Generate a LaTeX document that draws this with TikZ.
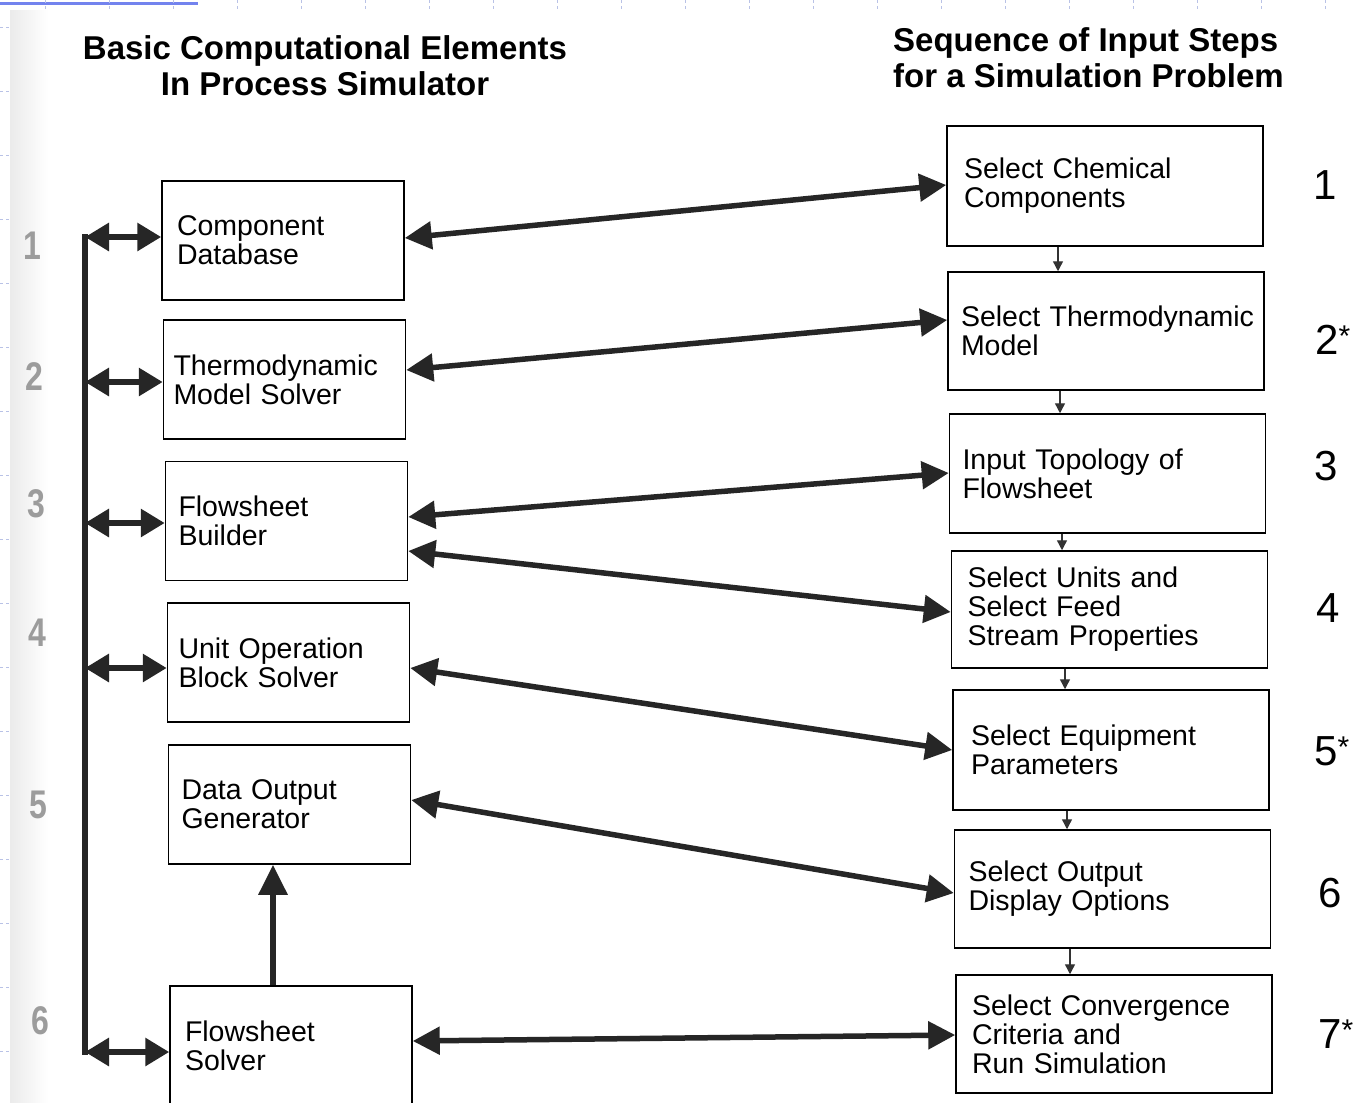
\documentclass[tikz,border=0pt]{standalone}
\usepackage{fontspec}
\setmainfont{Liberation Sans}
\usetikzlibrary{arrows.meta,calc}
\definecolor{rulerblue}{HTML}{7383EE}
\definecolor{tickblue}{HTML}{B9C2E6}
\definecolor{stepgray}{HTML}{9C9C9C}
\newcommand{\starmark}{\raisebox{8pt}{\fontsize{30}{30}\selectfont *}}
\newcommand{\nohyph}{\hyphenpenalty=10000\relax\exhyphenpenalty=10000\relax}
\begin{document}
\begin{tikzpicture}[x=1pt,y=-1pt,
  box/.style={draw, line width=1.5pt, inner ysep=0pt, align=left,
    font=\fontsize{28.5}{29}\selectfont\nohyph},
  lbox/.style={box, inner xsep=15pt, text width=212pt, minimum height=119pt},
  rbox/.style={box, inner xsep=13pt, text width=290pt, minimum height=118pt},
  title/.style={font=\fontsize{33}{36}\selectfont\bfseries, inner sep=0pt},
  stepnum/.style={font=\fontsize{42}{42}\selectfont, anchor=west, inner sep=0pt},
  sidenum/.style={font=\fontsize{40}{40}\selectfont\bfseries, text=stepgray, inner sep=0pt, xscale=0.8},
  twoway/.style={line width=5.5pt, color=black!85,
    {Triangle[length=27pt,width=27pt]}-{Triangle[length=27pt,width=27pt]}},
  branch/.style={line width=6pt, color=black!85,
    {Triangle[length=24pt,width=27pt]}-{Triangle[length=24pt,width=27pt]}},
  feed/.style={line width=1.4pt, color=black!80, -{Triangle[length=10pt,width=10pt]}},
  lift/.style={line width=6pt, color=black!85, -{Triangle[length=30pt,width=28pt]}}
]
\useasboundingbox (0,0) rectangle (1361,1103);
\fill[white] (0,0) rectangle (1361,1103);
% faint shading along the left edge of the page
\fill[left color=black!8, right color=white] (10,10) rectangle (48,1103);

% slide template marks
\draw[rulerblue, line width=3pt] (0,3) -- (198,3);
\foreach \tx in {45,109,...,1325}
  \draw[tickblue, line width=0.8pt, dash pattern=on 3pt off 3pt] (\tx,0) -- (\tx,10);
\foreach \ty in {27,91,...,1051}
  \draw[tickblue, line width=0.8pt, dash pattern=on 3pt off 3pt] (0,\ty) -- (10,\ty);

% headings
\node[title, align=center] (tleft) at (325,66) {Basic Computational Elements\\In Process Simulator};
\node[title, align=left, anchor=west] (tright) at (893,58) {Sequence of Input Steps\\for a Simulation Problem};

% computational elements
\node[lbox] (L1) at (283,240.5) {Component\\Database};
\node[lbox, inner xsep=10pt, text width=222pt] (L2) at (284.5,379.5) {Thermodynamic\\Model Solver};
\node[lbox, inner xsep=13pt, text width=216pt] (L3) at (286.5,521) {Flowsheet\\Builder};
\node[lbox, inner xsep=11pt, text width=220pt] (L4) at (288.5,662.5) {Unit Operation\\Block Solver};
\node[lbox, inner xsep=13pt, text width=216pt] (L5) at (289.5,804.5) {Data Output\\Generator};
\node[lbox, minimum height=120pt] (L6) at (291,1046) {Flowsheet\\Solver};

% input steps
\node[rbox, minimum height=120pt, inner xsep=17pt, text width=282pt] (R1) at (1105,186) {Select Chemical\\Components};
\node[rbox] (R2) at (1106,331) {\mbox{Select Thermodynamic}\\Model};
\node[rbox, minimum height=119pt] (R3) at (1107.5,473.5) {Input Topology of\\Flowsheet};
\node[rbox, minimum height=117pt, inner xsep=16pt, text width=284pt] (R4) at (1109.5,609.5) {Select Units and\\Select Feed\\Stream Properties};
\node[rbox, minimum height=120pt, inner xsep=18pt, text width=280pt] (R5) at (1111,750) {Select Equipment\\Parameters};
\node[rbox, inner xsep=14pt, text width=288pt] (R6) at (1112.5,889) {Select Output\\Display Options};
\node[rbox, inner xsep=16pt, text width=284pt] (R7) at (1114,1034) {Select Convergence\\Criteria and\\Run Simulation};

% step numbers on the right
\node[stepnum] (n1) at (1313,185) {1};
\node[stepnum] (n2) at (1315,340) {2\starmark};
\node[stepnum] (n3) at (1314,466) {3};
\node[stepnum] (n4) at (1316,608) {4};
\node[stepnum] (n5) at (1314,751) {5\starmark};
\node[stepnum] (n6) at (1318,893) {6};
\node[stepnum] (n7) at (1318,1034) {7\starmark};

% grey numbers on the left
\node[sidenum] (g1) at (32,246) {1};
\node[sidenum] (g2) at (34,377) {2};
\node[sidenum] (g3) at (36,504) {3};
\node[sidenum] (g4) at (37,633) {4};
\node[sidenum] (g5) at (38,805) {5};
\node[sidenum] (g6) at (40,1021) {6};

% bus bar linking the elements
\coordinate (bt) at (85,237);
\coordinate (bb) at (85,1052);
\draw[line width=5.5pt, color=black!85] ([yshift=2.75pt]bt) -- ([yshift=-2.75pt]bb);
\draw[branch] (bt) -- ([yshift=3.5pt]L1.west);
\draw[branch] (bt |- 0,382) -- ([yshift=-2.5pt]L2.west);
\draw[branch] (bt |- 0,523) -- ([yshift=-2pt]L3.west);
\draw[branch] (bt |- 0,668) -- ([yshift=-5.5pt]L4.west);
\draw[branch] (bb) -- ([yshift=-6pt]L6.west);

% results passed up to the output generator
\draw[lift] ([xshift=-18pt]L6.north) -- ([xshift=-18pt]L6.north |- L5.south);

% element <-> input step links
\draw[twoway] ([yshift=2.5pt]L1.east) -- ([yshift=1pt]R1.west);
\draw[twoway] ([yshift=9.5pt]L2.east) -- ([yshift=11pt]R2.west);
\draw[twoway] ([yshift=4pt]L3.east) -- ([yshift=0.5pt]R3.west);
\draw[twoway] ([yshift=-30pt]L3.east) -- ([yshift=-2.5pt]R4.west);
\draw[twoway] ([yshift=-5.5pt]L4.east) -- (R5.west);
\draw[twoway] ([yshift=4.5pt]L5.east) -- ([yshift=-4pt]R6.west);
\draw[twoway] ([yshift=5pt]L6.east) -- ([yshift=-1pt]R7.west);

% order of the input steps
\draw[feed] ([xshift=-47pt]R1.south) -- ([xshift=-47pt]R1.south |- R2.north);
\draw[feed] ([xshift=-46pt]R2.south) -- ([xshift=-46pt]R2.south |- R3.north);
\draw[feed] ([xshift=-45.5pt]R3.south) -- ([xshift=-45.5pt]R3.south |- R4.north);
\draw[feed] ([xshift=-44.5pt]R4.south) -- ([xshift=-44.5pt]R4.south |- R5.north);
\draw[feed] ([xshift=-44pt]R5.south) -- ([xshift=-44pt]R5.south |- R6.north);
\draw[feed] ([xshift=-42.5pt]R6.south) -- ([xshift=-42.5pt]R6.south |- R7.north);
\end{tikzpicture}
\end{document}
